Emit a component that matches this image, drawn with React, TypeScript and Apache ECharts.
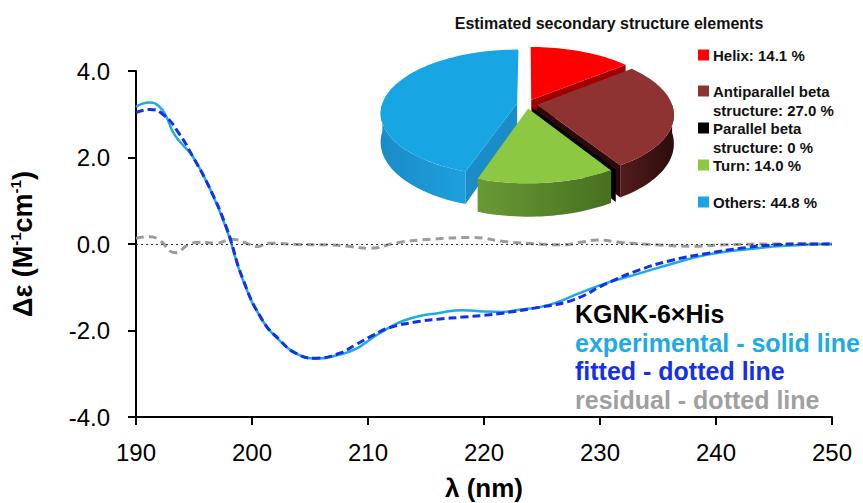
import React, { useEffect, useRef } from 'react';
import * as echarts from 'echarts';

// ---------- data ----------
const expWl = [190, 190.5, 191.2, 192.0, 192.6, 193.2, 194.0, 194.9, 196.3, 197.8, 199.2, 200.9, 202.4, 203.8, 205.5, 207.5, 209.0, 210.5, 211.9, 213.0, 214.2, 216.0, 218.2, 220.0, 221.6, 223.0, 224.8, 226.5, 228.0, 230.6, 233.4, 236.3, 239.2, 242.1, 245.0, 247.5, 250.0];
const expVal = [3.17, 3.24, 3.27, 3.18, 2.95, 2.58, 2.3, 2.02, 1.32, 0.35, -0.82, -1.77, -2.24, -2.53, -2.65, -2.56, -2.42, -2.15, -1.92, -1.78, -1.68, -1.6, -1.53, -1.56, -1.57, -1.52, -1.46, -1.33, -1.16, -0.9, -0.68, -0.45, -0.25, -0.14, -0.06, -0.02, 0];

const fitWl = [190, 191.2, 192.4, 193.7, 194.9, 196.3, 197.8, 199.2, 200.9, 202.4, 203.8, 205.5, 207.5, 209.0, 210.5, 211.9, 214.2, 216.0, 218.2, 220.0, 221.6, 224.8, 227.7, 230.6, 233.4, 236.3, 239.2, 242.1, 245.0, 247.5, 250.0];
const fitVal = [3.04, 3.11, 2.98, 2.56, 2.02, 1.32, 0.38, -0.8, -1.76, -2.22, -2.53, -2.64, -2.53, -2.32, -2.1, -1.93, -1.8, -1.74, -1.69, -1.65, -1.6, -1.46, -1.29, -0.91, -0.6, -0.37, -0.22, -0.1, -0.02, 0, 0];

const resWl = [190, 191.2, 192.0, 193.4, 194.5, 195.4, 196.9, 198.3, 199.5, 200.4, 201.5, 204, 206.7, 208.5, 210.1, 212.5, 215.4, 218.9, 222.0, 224.8, 226.5, 228.6, 229.7, 232, 234.9, 237.8, 240.6, 245, 250];
const resVal = [0.13, 0.17, 0.09, -0.2, -0.02, 0.04, 0.02, 0.11, 0.02, -0.06, 0.02, -0.01, -0.02, -0.06, -0.1, 0.03, 0.11, 0.15, 0.05, 0, -0.02, 0.05, 0.09, 0.03, -0.02, -0.05, -0.02, 0, 0];

const pieTitle = 'Estimated secondary structure elements';
const pieNames = ['Helix', 'Antiparallel beta\nstructure', 'Parallel beta\nstructure', 'Turn', 'Others'];
const pieValues = [14.1, 27.0, 0, 14.0, 44.8];

const annotations = ['KGNK-6×His', 'experimental - solid line', 'fitted - dotted line', 'residual - dotted line'];

// ---------- styles ----------
const FONT = '"Liberation Sans", Arial, Helvetica, sans-serif';
const pieTop = ['#FF0000', '#8E3232', '#000000', '#8DC843', '#17A6E3'];
const pieWall = [
  ['#B80000', '#D80000'],
  ['#551C1C', '#2C0C0C'],
  ['#000000', '#000000'],
  ['#6A9A36', '#47701F'],
  ['#1B8BC8', '#1EA0DC'],
];
const pieFace = ['#A00000', '#2A0A0A', '#000000', '#557F28', '#1A8CC9'];
const annColors = ['#000000', '#1EAAE6', '#1530E8', '#A0A0A0'];
const annY = [314, 343, 371, 400];
const legendY = [55, 91, 128, 165, 202];

const PIE = { cx: 527, cy: 104, rx: 135, ry: 62, q: 0.15, e: 0.074, d: 28 };

const zip = (xs: number[], ys: number[]) => xs.map((x, i) => [x, ys[i]]);
const fmtPct = (v: number) => (v === 0 ? '0' : v.toFixed(1));

function proj(X: number, Y: number, dz: number) {
  const s = 1 / (1 - PIE.q * Y);
  return [PIE.cx + PIE.rx * X * s, PIE.cy + PIE.ry * Y * s + dz * s];
}

export default function App() {
  const ref = useRef<HTMLDivElement>(null);
  useEffect(() => {
    if (!ref.current) return;
    const chart = echarts.init(ref.current, null, { renderer: 'svg' });

    const total = pieValues.reduce((a, b) => a + b, 0);
    let acc = 0;
    const sliceData = pieValues.map((v, i) => {
      const a = (acc / total) * 360;
      acc += v;
      const b = (acc / total) * 360;
      return [a, b, i];
    });

    const renderItem = (params: any, api: any) => {
      const a = api.value(0) as number;
      const b = api.value(1) as number;
      const i = api.value(2) as number;
      const rad = Math.PI / 180;
      const mid = ((a + b) / 2) * rad;
      const ox = PIE.e * Math.sin(mid);
      const oy = -PIE.e * Math.cos(mid);
      const rim = (deg: number, dz: number) => proj(ox + Math.sin(deg * rad), oy - Math.cos(deg * rad), dz);
      const apex = (dz: number) => proj(ox, oy, dz);
      const arcPts = (from: number, to: number, dz: number) => {
        const n = Math.max(1, Math.ceil((to - from) / 2));
        const pts: number[][] = [];
        for (let k = 0; k <= n; k++) pts.push(rim(from + ((to - from) * k) / n, dz));
        return pts;
      };
      const zw = Math.round(-Math.cos(mid) * 40) + 50;
      const children: any[] = [];
      const wa = Math.max(a, 90);
      const wb = Math.min(b, 270);
      if (wb > wa) {
        const pts = arcPts(wa, wb, 0).concat(arcPts(wa, wb, PIE.d).reverse());
        children.push({
          type: 'polygon',
          z2: zw,
          shape: { points: pts },
          style: {
            fill: new echarts.graphic.LinearGradient(0, 0, 1, 0, [
              { offset: 0, color: pieWall[i][0] },
              { offset: 1, color: pieWall[i][1] },
            ]),
          },
        });
      }
      const face = (deg: number) => ({
        type: 'polygon',
        z2: zw + 1,
        shape: { points: [apex(0), rim(deg, 0), rim(deg, PIE.d), apex(PIE.d)] },
        style: { fill: pieFace[i] },
      });
      if (Math.sin(a * rad) < -1e-6) children.push(face(a));
      if (Math.sin(b * rad) > 1e-6) children.push(face(b));
      children.push({
        type: 'polygon',
        z2: 200,
        shape: { points: [apex(0)].concat(arcPts(a, b, 0)) },
        style: { fill: pieTop[i] },
      });
      return { type: 'group', children };
    };

    const graphics: any[] = [];
    graphics.push({
      type: 'text',
      x: 609,
      y: 23,
      style: { text: pieTitle, fontSize: 16, fontWeight: 'bold', fontFamily: FONT, fill: '#111', align: 'center', verticalAlign: 'middle' },
    });
    pieNames.forEach((name, i) => {
      const label = `${name}: ${fmtPct(pieValues[i])} %`;
      graphics.push({
        type: 'rect',
        shape: { x: 698, y: legendY[i] - 5.5, width: 11, height: 11 },
        style: { fill: pieTop[i] },
      });
      label.split('\n').forEach((line, j) => {
        graphics.push({
          type: 'text',
          x: 713,
          y: legendY[i] + j * 19,
          style: { text: line, fontSize: 15, fontWeight: 'bold', fontFamily: FONT, fill: '#111', align: 'left', verticalAlign: 'middle' },
        });
      });
    });
    annotations.forEach((t, i) => {
      graphics.push({
        type: 'text',
        x: 575,
        y: annY[i],
        style: { text: t, fontSize: 25, fontWeight: 'bold', fontFamily: FONT, fill: annColors[i], align: 'left', verticalAlign: 'middle' },
      });
    });

    chart.setOption({
      animation: false,
      backgroundColor: '#ffffff',
      grid: { left: 136, right: 31, top: 71, bottom: 86, containLabel: false, outerBoundsMode: 'none' },
      xAxis: {
        type: 'value',
        min: 190,
        max: 250,
        interval: 10,
        name: 'λ (nm)',
        nameLocation: 'middle',
        nameGap: 58,
        nameTextStyle: { fontSize: 26, fontWeight: 'bold', fontFamily: FONT, color: '#000' },
        axisLine: { onZero: false, lineStyle: { color: '#000', width: 2 } },
        axisTick: { show: true, length: 8, inside: false, lineStyle: { color: '#000', width: 2 } },
        axisLabel: { fontSize: 24, fontFamily: FONT, color: '#000', margin: 23 },
        splitLine: { show: false },
      },
      yAxis: {
        type: 'value',
        min: -4,
        max: 4,
        interval: 2,
        name: '{a|Δε (M}{s|-1}{a|cm}{s|-1}{a|)}',
        nameLocation: 'middle',
        nameGap: 98,
        nameTextStyle: {
          rich: {
            a: { fontSize: 27, fontWeight: 'bold', fontFamily: FONT, color: '#000', lineHeight: 30 },
            s: { fontSize: 15, fontWeight: 'bold', fontFamily: FONT, color: '#000', verticalAlign: 'top', lineHeight: 30 },
          },
        },
        axisLine: { show: true, onZero: false, lineStyle: { color: '#000', width: 2 } },
        axisTick: { show: true, length: 8, inside: false, lineStyle: { color: '#000', width: 2 } },
        axisLabel: { fontSize: 24, fontFamily: FONT, color: '#000', margin: 26, formatter: (v: number) => v.toFixed(1) },
        splitLine: { show: false },
      },
      series: [
        {
          name: 'residual',
          type: 'line',
          data: zip(resWl, resVal),
          smooth: 0.5,
          showSymbol: false,
          lineStyle: { color: '#9C9C9C', width: 3, type: [8, 5] },
          z: 2,
          markLine: {
            silent: true,
            symbol: 'none',
            label: { show: false },
            lineStyle: { color: '#333', width: 1, type: [2, 3] },
            data: [{ yAxis: 0 }],
          },
        },
        {
          name: 'experimental',
          type: 'line',
          data: zip(expWl, expVal),
          smooth: 0.5,
          showSymbol: false,
          lineStyle: { color: '#1EAAE6', width: 2.5 },
          z: 3,
        },
        {
          name: 'fitted',
          type: 'line',
          data: zip(fitWl, fitVal),
          smooth: 0.5,
          showSymbol: false,
          lineStyle: { color: '#1530E8', width: 3, type: [8, 4] },
          z: 4,
        },
        {
          name: 'pie',
          type: 'custom',
          coordinateSystem: 'none',
          renderItem,
          data: sliceData,
          z: 5,
          silent: true,
        },
      ],
      graphic: graphics,
    });
    return () => chart.dispose();
  }, []);
  return <div ref={ref} style={{ position: 'fixed', left: 0, top: 0, width: 863, height: 503 }} />;
}
